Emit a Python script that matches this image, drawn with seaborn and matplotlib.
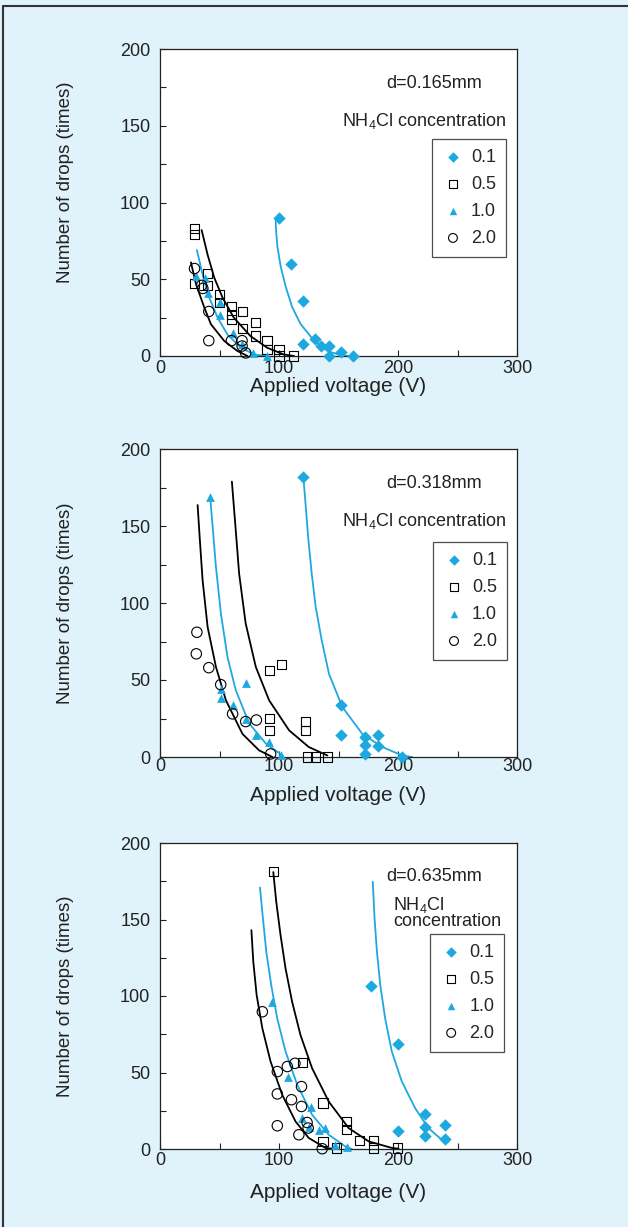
import matplotlib
matplotlib.use("Agg")
import matplotlib.pyplot as plt
import seaborn as sns
from matplotlib.lines import Line2D

sns.set_theme(style="ticks")
plt.rcParams["font.family"] = ["Liberation Sans", "DejaVu Sans"]
plt.rcParams["mathtext.fontset"] = "custom"
plt.rcParams["mathtext.rm"] = "Liberation Sans"
plt.rcParams["mathtext.it"] = "Liberation Sans"
plt.rcParams["axes.edgecolor"] = "#222222"
plt.rcParams["axes.linewidth"] = 0.9

BLUE = "#1ea8e0"
BG = "#e0f2fa"

# ---------------- data ----------------
gaps = ["d=0.165mm", "d=0.318mm", "d=0.635mm"]
conc = ["0.1", "0.5", "1.0", "2.0"]

# d = 0.165 mm
v1_01 = [100, 110, 120, 120, 130, 135, 142, 142, 152, 162]
n1_01 = [90, 60, 36, 8, 11, 6.5, 6.5, 0, 2.6, 0]
v1_05 = [29, 29, 29, 40, 40, 50, 50, 60, 60, 60, 69, 69, 80, 80, 90, 90, 100, 100, 112]
n1_05 = [83, 79, 47, 54, 46, 40, 35, 32, 27, 24, 29, 18, 22, 13, 10, 4, 4, 0, 0]
v1_10 = [30, 38, 40, 50, 50, 61, 69, 78, 90]
n1_10 = [52, 51, 41, 35, 27, 15, 8, 2, 0]
v1_20 = [29, 35, 36, 41, 41, 60, 69, 69, 72]
n1_20 = [57, 46, 44, 29, 10, 10, 10, 6.5, 2]

c1_01_v = [97.3, 97.3, 98.7, 101.5, 105.7, 111, 118, 129.4, 140.6, 151.8, 160]
c1_01_n = [89, 84, 71, 58, 45, 32, 21, 10, 3.3, 0.5, 0]
c1_05_v = [35, 40, 45.6, 52.6, 62, 76, 90, 104, 112.7]
c1_05_n = [82, 66, 51, 38, 25, 13, 5.4, 1, 0]
c1_10_v = [31, 35.8, 41.4, 48.4, 56.7, 68, 79, 90]
c1_10_n = [69, 53, 38, 25, 14, 5.4, 1, 0]
c1_20_v = [26, 30.2, 37.2, 42.8, 54, 65, 73.5]
c1_20_n = [61, 47, 31.6, 20.7, 9.8, 3.3, 0]

# d = 0.318 mm
v2_01 = [120, 152, 152, 172, 172, 172, 183, 183, 203]
n2_01 = [182, 34, 14, 13, 7.6, 2.2, 14.5, 7, 0]
v2_05 = [92, 102, 92, 92, 122, 122, 124, 131, 141]
n2_05 = [56, 60, 25, 17, 23, 17, 0, 0, 0]
v2_10 = [42, 51, 51, 61, 72, 72, 81, 92, 102]
n2_10 = [169, 44, 38, 34, 48, 25, 14, 10, 1.5]
v2_20 = [31, 30.5, 41, 51, 61, 72, 81, 93]
n2_20 = [81, 67, 58, 47, 28, 23, 24, 2]

c2_01_v = [120.5, 122.5, 124.7, 127.5, 130.8, 135.9, 142, 153.2, 170, 186.7, 203.5, 212]
c2_01_n = [181.6, 162.5, 141, 119, 97.5, 75.8, 54, 32.5, 15, 6.5, 1, 0]
c2_05_v = [60.4, 63.2, 66.5, 72, 80.5, 91.7, 108.5, 125, 140.6]
c2_05_n = [178.8, 151.7, 119, 86.7, 58.5, 36.8, 17.3, 6.5, 1]
c2_10_v = [42.2, 44, 47, 51.2, 56.7, 63.7, 75, 89, 103]
c2_10_n = [168.6, 151.7, 123.5, 93, 65, 43.3, 21.7, 8.7, 1]
c2_20_v = [31.6, 33.5, 35.8, 40, 47, 55.4, 69.3, 83.3, 94.5]
c2_20_n = [163.6, 140.8, 114.8, 84.5, 58.5, 36.8, 15, 4.3, 0]

# d = 0.635 mm
v3_01 = [177.5, 200, 200, 222.7, 222.7, 222.7, 239.5, 239.5]
n3_01 = [106.5, 68.7, 11.5, 22.8, 14.6, 8.3, 15.9, 6.7]
v3_05 = [95.2, 119.5, 137, 137, 148, 157, 157, 167.7, 179.5, 179.5, 199.6]
n3_05 = [181.5, 56.5, 30, 5, 0.7, 18, 12.6, 5.4, 5.4, 0.7, 0.7]
v3_10 = [93.8, 107.8, 127.3, 119.5, 125.6, 134, 139, 147.4, 157]
n3_10 = [96.3, 47, 27.4, 20.2, 14.7, 12.6, 13.7, 2.3, 1]
v3_20 = [86, 98.6, 107, 113.4, 98.6, 118.9, 110.5, 118.9, 98.6, 123.6, 124.5, 116.7, 136.3]
n3_20 = [89.7, 50.6, 53.9, 56, 36, 40.8, 32.2, 27.8, 15.2, 17.3, 13.7, 9.3, 0.2]

c3_01_v = [178.8, 180.3, 182.3, 185.1, 189.2, 194.8, 203.2, 214.4, 225.5, 236.7, 242.2]
c3_01_n = [174.6, 150.7, 129, 107.2, 85.4, 63.7, 44.1, 26.7, 13.7, 6.1, 4.6]
c3_05_v = [95.2, 97.7, 101.3, 105.5, 111, 118, 127.8, 141.8, 158.5, 175.3, 194.8, 200.5]
c3_05_n = [181, 161.5, 139.8, 118, 96.3, 74.6, 52.8, 31, 13.7, 5, 0.7, 0.2]
c3_10_v = [84, 86.5, 89.3, 93.5, 98.5, 105.5, 115.3, 127.8, 141.8, 155.7, 161]
c3_10_n = [170.9, 150.7, 129, 107, 85.4, 63.7, 42, 22.4, 9.3, 1.7, 0]
c3_20_v = [76.8, 78.4, 81.2, 86, 92.9, 102.7, 113.9, 125, 139, 147.4]
c3_20_n = [143, 122.4, 100.7, 78.9, 57.2, 35.4, 18, 7.2, 0.7, 0]

points = [
    [(v1_01, n1_01), (v1_05, n1_05), (v1_10, n1_10), (v1_20, n1_20)],
    [(v2_01, n2_01), (v2_05, n2_05), (v2_10, n2_10), (v2_20, n2_20)],
    [(v3_01, n3_01), (v3_05, n3_05), (v3_10, n3_10), (v3_20, n3_20)],
]
curves = [
    [(c1_01_v, c1_01_n), (c1_05_v, c1_05_n), (c1_10_v, c1_10_n), (c1_20_v, c1_20_n)],
    [(c2_01_v, c2_01_n), (c2_05_v, c2_05_n), (c2_10_v, c2_10_n), (c2_20_v, c2_20_n)],
    [(c3_01_v, c3_01_n), (c3_05_v, c3_05_n), (c3_10_v, c3_10_n), (c3_20_v, c3_20_n)],
]

# marker styles per concentration
styles = [
    dict(marker="D", s=40, color=BLUE, edgecolor=BLUE, linewidth=0),
    dict(marker="s", s=44, color="black", facecolor="none", edgecolor="black", linewidth=0.8),
    dict(marker="^", s=40, color=BLUE, edgecolor=BLUE, linewidth=0),
    dict(marker="o", s=56, color="black", facecolor="none", edgecolor="black", linewidth=0.8),
]
line_colors = [BLUE, "black", BLUE, "black"]

# ---------------- figure ----------------
fig = plt.figure(figsize=(6.28, 12.27), dpi=100, facecolor=BG)
W, H = 628, 1227
ax_px = [(160, 49, 517, 356), (160, 449, 517, 757), (160, 843, 517, 1149)]
leg_anchor = [(0.969, 0.707), (0.972, 0.698), (0.964, 0.703)]
xtick_pad = [3, 1, 2]
xlabel_y = [-0.068, -0.095, -0.11]
ylabel_y = [0.567, 0.5, 0.5]

for i, (x0, y0, x1, y1) in enumerate(ax_px):
    ax = fig.add_axes([x0 / W, 1 - y1 / H, (x1 - x0) / W, (y1 - y0) / H])
    ax.set_facecolor("white")

    for j in range(4):
        cv, cn = curves[i][j]
        sns.lineplot(x=cv, y=cn, sort=False, estimator=None, color=line_colors[j],
                     linewidth=1.3, ax=ax, clip_on=False)
    for j in range(4):
        pv, pn = points[i][j]
        sns.scatterplot(x=pv, y=pn, ax=ax, label=conc[j], clip_on=False, zorder=3,
                        **styles[j])

    ax.set_xlim(0, 300)
    ax.set_ylim(0, 200)
    ax.set_xticks([0, 100, 200, 300])
    ax.set_xticks([50, 150, 250], minor=True)
    ax.set_yticks([0, 50, 100, 150, 200])
    ax.set_yticks([25, 75, 125, 175], minor=True)
    ax.tick_params(which="both", direction="in", length=4, width=0.8,
                   labelsize=13, colors="#222222", pad=7)
    ax.tick_params(axis="x", which="both", pad=xtick_pad[i])
    ax.set_xlabel("Applied voltage (V)", fontsize=15, color="#222222")
    ax.set_ylabel("Number of drops (times)", fontsize=13.5, color="#222222")
    ax.xaxis.set_label_coords(0.5, xlabel_y[i])
    ax.yaxis.set_label_coords(-0.24, ylabel_y[i])
    for sp in ax.spines.values():
        sp.set_visible(True)

    leg = ax.legend(loc="upper right", bbox_to_anchor=leg_anchor[i], borderaxespad=0,
                    fontsize=13, frameon=True, fancybox=False, edgecolor="#222222",
                    labelspacing=0.55, handletextpad=0.4, handlelength=1.2,
                    borderpad=0.55, markerscale=0.85)
    leg.get_frame().set_linewidth(0.9)

    ax.text(0.903, 0.889, gaps[i], transform=ax.transAxes, ha="right", va="center",
            fontsize=13, color="#222222")
    if i < 2:
        ax.text(0.97, 0.765, r"NH$_4$Cl concentration", transform=ax.transAxes,
                ha="right", va="center", fontsize=13, color="#222222")
    else:
        ax.text(0.653, 0.797, r"NH$_4$Cl", transform=ax.transAxes,
                ha="left", va="center", fontsize=13, color="#222222")
        ax.text(0.653, 0.742, "concentration", transform=ax.transAxes,
                ha="left", va="center", fontsize=13, color="#222222")

# frame lines on top and left of the figure
fig.add_artist(Line2D([3.5 / W, 3.5 / W], [0, 1 - 6 / H], color="#333333", linewidth=1.5))
fig.add_artist(Line2D([3.5 / W, 1], [1 - 6 / H, 1 - 6 / H], color="#333333", linewidth=1.5))

fig.savefig("out.png", dpi=100, facecolor=BG)
